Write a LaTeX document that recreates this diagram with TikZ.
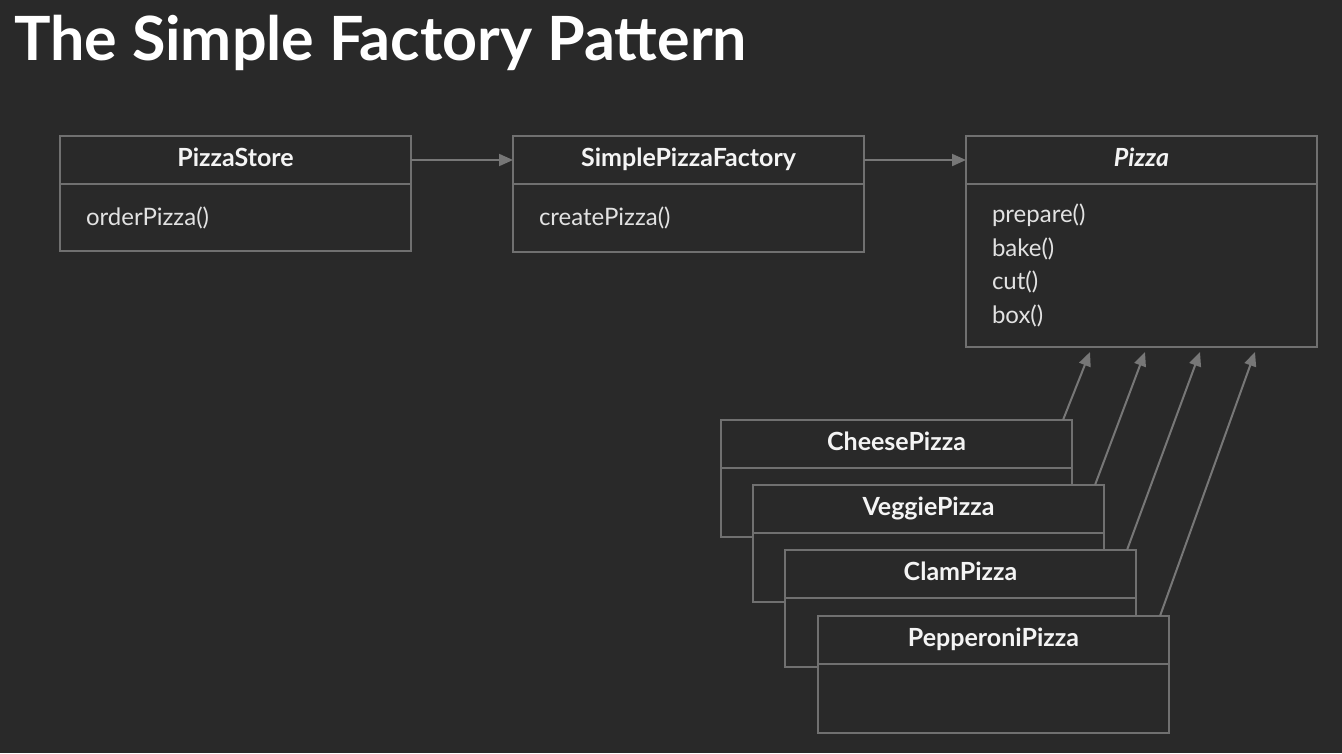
\documentclass[tikz,border=0pt]{standalone}
\usepackage{fontspec}
\setmainfont{Lato}
\usetikzlibrary{positioning,arrows.meta}
\definecolor{bg}{HTML}{292929}
\definecolor{edge}{HTML}{707070}
\definecolor{wire}{HTML}{777777}
\definecolor{ink}{HTML}{F4F4F4}
\definecolor{soft}{HTML}{E2E2E2}
\begin{document}
\begin{tikzpicture}[x=1pt,y=-1pt,
	head/.style={draw=edge,fill=bg,line width=1.8pt,minimum width=351pt,minimum height=48pt,inner sep=0pt,outer sep=0pt,
		text height=17pt,text depth=5pt,text=ink,font=\fontsize{25}{28}\selectfont\bfseries},
	body/.style={draw=edge,fill=bg,line width=1.8pt,text width=299pt,inner xsep=26pt,inner ysep=0pt,outer sep=0pt,
		align=left,text=soft,font=\fontsize{24}{33.5}\selectfont},
	wire/.style={draw=wire,line width=2pt,-{Triangle[length=14pt,width=12pt,fill=wire]}}]
	\useasboundingbox[fill=bg](0,0)rectangle(1342,753);
	\node[anchor=base west,inner sep=0pt,text=white,font=\fontsize{61}{66}\selectfont\bfseries](title)at(14,60){The Simple Factory Pattern};
	% top row
	\node[head,anchor=north west](store-h)at(60,136){PizzaStore};
	\node[body,minimum height=67pt,below=0pt of store-h](store-b){orderPizza()};
	\node[head,anchor=north west](factory-h)at(513,136){SimplePizzaFactory};
	\node[body,minimum height=68pt,below=0pt of factory-h](factory-b){createPizza()};
	\node[head,anchor=north west](pizza-h)at(966,136){\itshape Pizza};
	\node[body,minimum height=163pt,below=0pt of pizza-h](pizza-b){prepare()\\bake()\\cut()\\box()};
	\draw[wire](store-h)--(factory-h);
	\draw[wire](factory-h)--(pizza-h);
	% subclasses
	\foreach \name/\label/\x/\y/\tip in {cheese/CheesePizza/721/420/124,veggie/VeggiePizza/753/485/179,
		clam/ClamPizza/785/550/234,pepperoni/PepperoniPizza/818/616/289}{
		\node[head,anchor=north west](\name-h)at(\x,\y){\label};
		\node[body,minimum height=69pt,below=0pt of \name-h](\name-b){};
		\draw[wire]([xshift=-9pt]\name-h.north east)--([xshift=\tip pt,yshift=-5pt]pizza-b.south west);
	}
\end{tikzpicture}
\end{document}
